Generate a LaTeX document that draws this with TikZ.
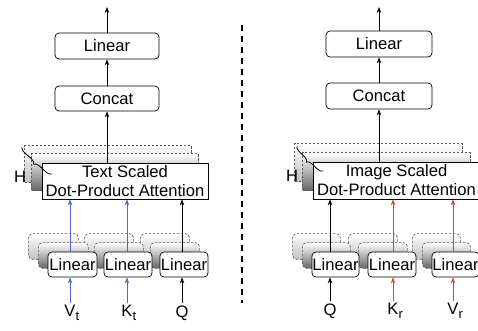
\documentclass[tikz,border=0pt]{standalone}
\usepackage{fontspec}
\setmainfont{Liberation Sans}
\usetikzlibrary{arrows.meta,decorations.pathreplacing,backgrounds}
\definecolor{lineblue}{RGB}{85,100,205}
\definecolor{linered}{RGB}{232,60,50}
\newcommand\mysub[1]{\rlap{\raisebox{-4.5pt}{\fontsize{13}{13}\selectfont #1}}}
\begin{document}
\begin{tikzpicture}[x=1pt,y=-1pt,
  font=\fontsize{16.6}{19}\selectfont,
  box/.style={draw, fill=white, rounded corners=4pt, line width=0.7pt, inner sep=0pt, minimum height=25pt},
  attbox/.style={draw, fill=white, line width=0.7pt, inner sep=0pt, align=center},
  conn/.style={line width=0.7pt, -{Stealth[length=6pt,width=4.5pt]}},
  lbl/.style={inner sep=2pt},
  ghost/.style={draw=black!65, dash pattern=on 2.5pt off 1.5pt, line width=0.6pt},
  ghostA/.style={ghost, top color=white, bottom color=black!25},
  ghostB/.style={ghost, top color=white, bottom color=black!60},
  bracestyle/.style={line width=0.8pt, decorate, decoration={brace, amplitude=5pt}},
]
\useasboundingbox (0,0) rectangle (478,331);

% ---------- left panel ----------
\node[box, minimum width=104pt, minimum height=26pt] (linTopL) at (107,46) {Linear};
\node[box, minimum width=104pt] (concatL) at (107,98.5) {Concat};
\node[attbox, minimum width=166pt, minimum height=36pt] (attL) at (125,181) {Text Scaled\\Dot-Product Attention};
\node[box, minimum width=49pt] (linL1) at (72.5,264.5) {Linear};
\node[box, minimum width=48pt] (linL2) at (128,264.5) {Linear};
\node[box, minimum width=48pt] (linL3) at (184,264.5) {Linear};
\node[lbl] (vt) at (70,313) {V\mysub{t}};
\node[lbl] (kt) at (127,313) {K\mysub{t}};
\node[lbl] (qL) at (182,313) {Q};
\coordinate (outL) at (107,7);
\node[inner sep=0pt] (hL) at (20,177) {H};

% ---------- right panel ----------
\node[box, minimum width=106pt, minimum height=26pt] (linTopR) at (379,44) {Linear};
\node[box, minimum width=106pt, minimum height=26pt] (concatR) at (379,96) {Concat};
\node[attbox, minimum width=167pt, minimum height=37pt] (attR) at (396.5,180.5) {Image Scaled\\Dot-Product Attention};
\node[box, minimum width=47pt] (linR1) at (335.5,264.5) {Linear};
\node[box, minimum width=48pt] (linR2) at (392,264.5) {Linear};
\node[box, minimum width=47pt] (linR3) at (455.5,264.5) {Linear};
\node[lbl] (qR) at (330,311) {Q};
\node[lbl] (kr) at (393,311) {K\mysub{r}};
\node[lbl] (vr) at (453,311) {V\mysub{r}};
\coordinate (outR) at (379,7);
\node[inner sep=0pt] (hR) at (292,176) {H};

% ---------- stacked copies ----------
\begin{scope}[on background layer]
\foreach \n in {linL1,linL2,linL3,linR1,linR2,linR3} {
  \draw[ghostA, rounded corners=4pt] ([shift={(-19,-18)}]\n.south west) rectangle ([shift={(-19,-18)}]\n.north east);
}
\foreach \n in {linL1,linL2,linL3,linR1,linR2,linR3} {
  \draw[ghostB, rounded corners=4pt] ([shift={(-9,-9)}]\n.south west) rectangle ([shift={(-9,-9)}]\n.north east);
}
\draw[ghostA] ([shift={(-17,-17)}]attL.south west) rectangle ([shift={(-17,-17)}]attL.north east);
\draw[ghostB] ([shift={(-10,-9)}]attL.south west) rectangle ([shift={(-10,-9)}]attL.north east);
\draw[ghostA] ([shift={(-18,-18)}]attR.south west) rectangle ([shift={(-18,-18)}]attR.north east);
\draw[ghostB] ([shift={(-10,-9)}]attR.south west) rectangle ([shift={(-10,-9)}]attR.north east);
\end{scope}

% ---------- braces ----------
\coordinate (brL1) at (52,174);
\coordinate (brL2) at (22,147);
\coordinate (brR1) at (323,171);
\coordinate (brR2) at (297,146);
\draw[bracestyle] (brL1) -- (brL2);
\draw[bracestyle] (brR1) -- (brR2);

% ---------- connectors ----------
\draw[conn] (linTopL.north) -- (outL);
\draw[conn] (concatL.north) -- (linTopL.south);
\draw[conn] (attL.north -| concatL) -- (concatL.south);
\foreach \l/\b/\c in {vt/linL1/lineblue, kt/linL2/lineblue, qL/linL3/black} {
  \draw[conn, \c] (\l.north) -- (\l |- \b.south);
  \draw[conn, \c] (\l |- \b.north) -- (\l |- attL.south);
}
\draw[conn] (linTopR.north) -- (outR);
\draw[conn] (concatR.north) -- (linTopR.south);
\draw[conn] (attR.north -| concatR) -- (concatR.south);
\foreach \l/\b/\c in {qR/linR1/black, kr/linR2/linered, vr/linR3/linered} {
  \draw[conn, \c] (\l.north) -- (\l |- \b.south);
  \draw[conn, \c] (\l |- \b.north) -- (\l |- attR.south);
}

% ---------- divider ----------
\coordinate (divTop) at (242,25);
\coordinate (divBot) at (242,303);
\draw[line width=1.5pt, dash pattern=on 6pt off 5pt] (divTop) -- (divBot);
\end{tikzpicture}
\end{document}
